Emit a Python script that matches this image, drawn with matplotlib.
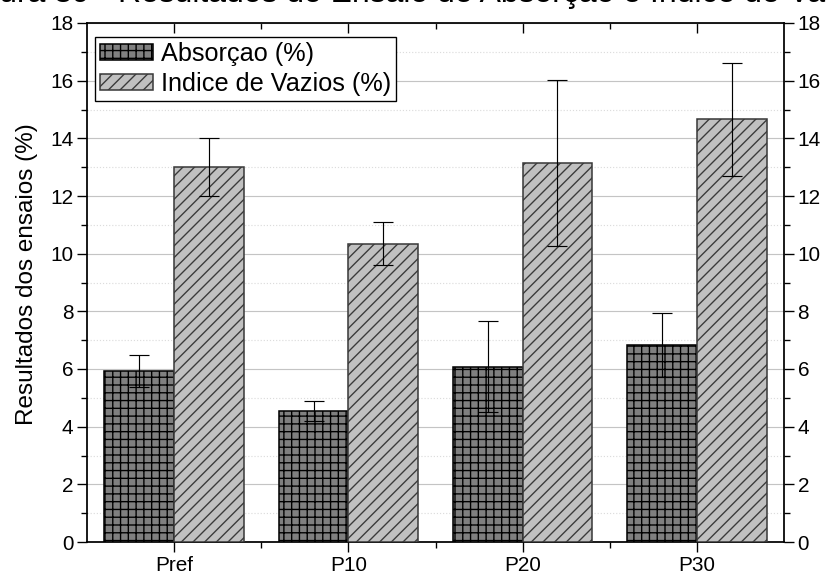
import matplotlib
matplotlib.use("Agg")
import matplotlib.pyplot as plt
import numpy as np

plt.rcParams['font.family'] = ['Liberation Sans', 'DejaVu Sans']
plt.rcParams['hatch.linewidth'] = 0.7

# data
categorias = ['Pref', 'P10', 'P20', 'P30']
absorcao = [5.93, 4.54, 6.08, 6.83]
absorcao_err = [0.55, 0.36, 1.58, 1.12]
vazios = [13.0, 10.35, 13.15, 14.66]
vazios_err = [1.0, 0.75, 2.88, 1.97]

DPI = 140
fig = plt.figure(figsize=(826 / DPI, 576 / DPI), dpi=DPI)
ax = fig.add_axes([87 / 826, 1 - 542 / 576, 697 / 826, 519 / 576])

x = np.arange(len(categorias))
w = 0.4
ax.bar(x - w / 2, absorcao, w, color='#808080', edgecolor='black', linewidth=0.8,
       hatch='+++', label='Absorçao (%)', zorder=3)
ax.bar(x + w / 2, vazios, w, color='#c0c0c0', edgecolor='#3a3a3a', linewidth=0.8,
       hatch='////', label='Indice de Vazios (%)', zorder=3)
ax.errorbar(x - w / 2, absorcao, yerr=absorcao_err, fmt='none', ecolor='black',
            elinewidth=0.6, capsize=5, capthick=0.6, zorder=4)
ax.errorbar(x + w / 2, vazios, yerr=vazios_err, fmt='none', ecolor='black',
            elinewidth=0.6, capsize=5, capthick=0.6, zorder=4)

ax.set_xlim(-0.5, 3.5)
ax.set_ylim(0, 18)
ax.set_xticks(x)
ax.set_xticklabels(categorias)
ax.set_xticks(x[:-1] + 0.5, minor=True)
ax.set_yticks(np.arange(0, 19, 2))
ax.set_yticks(np.arange(1, 18, 2), minor=True)

ax.grid(axis='y', which='major', color='#c4c4c4', linewidth=0.6, zorder=0)
ax.grid(axis='y', which='minor', color='#dcdcdc', linewidth=0.6, linestyle=':', zorder=0)
ax.set_axisbelow(True)

ax.tick_params(axis='both', which='major', labelsize=10.7, length=5, width=0.7, pad=2)
ax.tick_params(axis='both', which='minor', length=3, width=0.7)
ax.tick_params(axis='x', which='both', direction='out', top=True)
ax.tick_params(axis='y', which='both', direction='out', right=True, labelright=True)
# top ticks point inward
for t in ax.xaxis.get_major_ticks() + ax.xaxis.get_minor_ticks():
    t.tick2line.set_marker(matplotlib.lines.TICKDOWN)

for s in ax.spines.values():
    s.set_linewidth(0.9)

ax.set_ylabel('Resultados dos ensaios (%)', fontsize=12.5)
ax.yaxis.set_label_coords(-0.070, 0.516)

leg = ax.legend(loc='upper left', bbox_to_anchor=(8 / 697, 1 - 14 / 519), fontsize=13,
                frameon=True, fancybox=False, framealpha=1, edgecolor='black',
                handlelength=2.1, handleheight=0.6, labelspacing=0.22,
                handletextpad=0.3, borderpad=0.2, borderaxespad=0)
leg.get_frame().set_linewidth(0.7)

# caption cut off at the top edge, as in the reference
fig.text(-45 / 826, 1 - 2 / 576,
         'Figura 39 - Resultados do Ensaio de Absorção e Índice de Vazios',
         fontsize=16.4, ha='left', va='baseline')

fig.savefig('out.png', dpi=DPI)
